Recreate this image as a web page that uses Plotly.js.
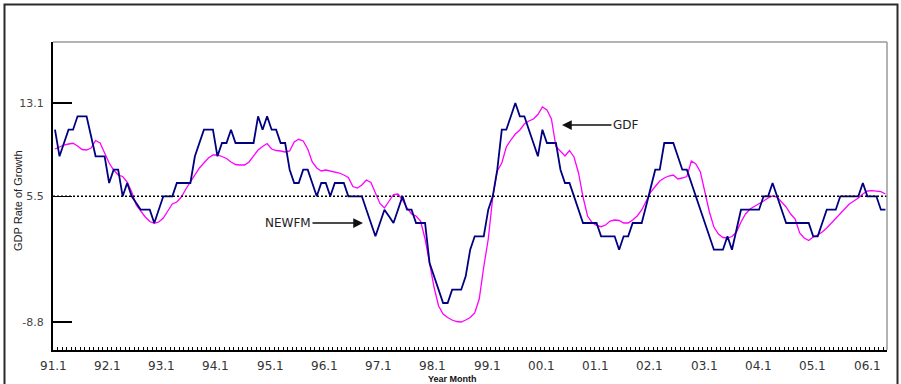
<!DOCTYPE html>
<html>
<head>
<meta charset="utf-8">
<script src="https://cdn.plot.ly/plotly-3.0.1.min.js"></script>
<style>
  html, body { margin: 0; padding: 0; background: #ffffff; }
  #chart { width: 901px; height: 384px; }
</style>
</head>
<body>
<div id="chart"></div>
<script>
// ---- Data, monthly from 1991.1 ----
const yearLabels = ['91.1','92.1','93.1','94.1','95.1','96.1','97.1','98.1',
                    '99.1','00.1','01.1','02.1','03.1','04.1','05.1','06.1'];

// NEWFM forecast (navy, stepped levels)
const newfm = [
  10.43, 7.77, 9.10, 10.43, 10.43, 11.77, 11.77, 11.77, 9.77, 7.77,
  7.77, 7.77, 5.10, 6.43, 6.43, 3.77, 5.10, 3.77, 3.10, 2.43,
  2.43, 2.43, 1.10, 2.43, 3.77, 3.77, 3.77, 5.10, 5.10, 5.10,
  5.10, 7.77, 9.10, 10.43, 10.43, 10.43, 7.77, 9.10, 9.10, 10.43,
  9.10, 9.10, 9.10, 9.10, 9.10, 11.77, 10.43, 11.77, 10.43, 10.43,
  9.10, 9.10, 6.43, 5.10, 5.10, 6.43, 6.43, 5.10, 3.77, 5.10,
  5.10, 3.77, 5.10, 5.10, 5.10, 3.77, 3.77, 3.77, 3.77, 2.43,
  1.10, -0.23, 1.10, 2.43, 1.77, 1.10, 2.43, 3.77, 2.43, 2.43,
  1.10, 1.10, 1.10, -2.90, -4.23, -5.57, -6.90, -6.90, -5.57, -5.57,
  -5.57, -4.23, -1.57, -0.23, -0.23, -0.23, 2.43, 3.77, 6.43, 10.43,
  10.43, 11.77, 13.10, 11.77, 11.77, 10.43, 9.10, 7.77, 10.43, 9.10,
  9.10, 9.10, 6.43, 5.10, 5.10, 3.77, 2.43, 1.10, 1.10, 1.10,
  1.10, -0.23, -0.23, -0.23, -0.23, -1.57, -0.23, -0.23, 1.10, 1.10,
  1.10, 2.84, 4.70, 6.43, 6.43, 9.10, 9.10, 9.10, 7.77, 6.43,
  6.43, 5.10, 3.77, 2.43, 1.10, -0.23, -1.57, -1.57, -1.57, -0.23,
  -1.57, 0.43, 2.43, 2.43, 2.43, 2.43, 2.43, 3.77, 3.77, 5.10,
  3.77, 2.43, 1.10, 1.10, 1.10, 1.10, 1.10, 1.10, -0.23, -0.23,
  1.10, 2.43, 2.43, 2.43, 3.77, 3.77, 3.77, 3.77, 3.77, 5.10,
  3.77, 3.77, 3.77, 2.43, 2.43
];

// Actual GDP growth (magenta)
const gdp = [
  8.5, 8.7, 8.9, 9.0, 9.07, 8.8, 8.45, 8.4, 8.6, 9.35,
  9.1, 8.1, 7.1, 6.4, 5.9, 5.75, 5.2, 4.2, 2.9, 2.3,
  1.7, 1.25, 1.07, 1.2, 1.6, 2.3, 3.0, 3.2, 3.7, 4.5,
  5.2, 6.0, 6.6, 7.1, 7.6, 7.9, 7.9, 7.75, 7.55, 7.2,
  6.95, 6.9, 6.9, 7.2, 7.8, 8.4, 8.75, 9.05, 8.5, 8.35,
  8.3, 8.2, 8.3, 9.2, 9.47, 9.3, 8.5, 7.2, 6.6, 6.3,
  6.4, 6.3, 6.2, 6.1, 5.9, 5.65, 4.75, 4.6, 4.9, 5.4,
  5.15, 4.0, 3.05, 2.6, 3.3, 3.95, 4.0, 3.4, 2.6, 2.0,
  1.8, 1.3, -0.5, -2.93, -5.35, -7.2, -8.0, -8.35, -8.6, -8.75,
  -8.8, -8.6, -8.35, -7.9, -6.5, -3.3, -0.5, 3.7, 6.3, 7.1,
  8.7, 9.4, 10.0, 10.4, 11.0, 11.3, 11.5, 11.95, 12.7, 12.4,
  11.5, 8.75, 8.3, 7.8, 8.35, 7.7, 6.1, 3.7, 1.8, 1.15,
  0.85, 0.73, 0.9, 1.3, 1.4, 1.35, 1.1, 1.1, 1.4, 1.8,
  2.4, 3.3, 4.2, 4.75, 5.3, 5.6, 5.8, 5.9, 5.5, 5.6,
  5.75, 7.3, 7.0, 6.2, 4.3, 2.2, 0.7, 0.0, -0.35, -0.4,
  -0.25, 0.2, 1.2, 2.0, 2.5, 2.75, 3.0, 3.3, 3.6, 3.8,
  3.7, 3.2, 2.7, 2.0, 1.5, 0.1, -0.4, -0.65, -0.3, -0.1,
  0.2, 0.6, 1.1, 1.6, 2.1, 2.55, 3.0, 3.3, 3.6, 4.0,
  4.3, 4.33, 4.25, 4.23, 4.0
];

const yTickVals = [13.1, 3.77, -8.8];
const yTickText = ['13.1', '5.5', '-8.8'];
const refLine = 3.77;

// ---- Layout helpers (pixel geometry of the frame) ----
const W = 901, H = 384;
const L = 53, R = 887, T = 42, B = 350;
const px2x = p => (p - L) / (R - L);
const px2y = p => (B - p) / (B - T);

const months = newfm.map((_, i) => i);

const traces = [
  { x: months, y: gdp, type: 'scatter', mode: 'lines', name: 'GDP',
    line: { color: '#ff00ff', width: 1.3 }, showlegend: false },
  { x: months, y: newfm, type: 'scatter', mode: 'lines', name: 'NEWFM',
    line: { color: '#000080', width: 1.8 }, showlegend: false }
];

const annotations = [];
yearLabels.forEach((lab, k) => {
  annotations.push({
    xref: 'paper', yref: 'paper', x: px2x(53 + k * 54.27), y: px2y(366),
    text: lab, showarrow: false, xanchor: 'center', yanchor: 'middle',
    font: { family: 'DejaVu Sans', size: 12, color: '#333' }
  });
});
annotations.push({
  xref: 'paper', yref: 'paper', x: px2x(452), y: px2y(379),
  text: '<b>Year Month</b>', showarrow: false, xanchor: 'center', yanchor: 'middle',
  font: { family: 'Liberation Sans', size: 9, color: '#111' }
});
annotations.push({
  xref: 'paper', yref: 'paper', x: px2x(18), y: px2y(201),
  text: 'GDP Rate of Growth', showarrow: false, textangle: -90,
  xanchor: 'center', yanchor: 'middle',
  font: { family: 'Liberation Sans', size: 11, color: '#222' }
});
annotations.push({
  xref: 'paper', yref: 'paper', x: px2x(562), y: px2y(125),
  text: 'GDF', showarrow: true, ax: 64, ay: 0,
  arrowhead: 2, arrowsize: 1.3, arrowwidth: 1.5, arrowcolor: '#111', standoff: 0,
  font: { family: 'DejaVu Sans', size: 12, color: '#222' }
});
annotations.push({
  xref: 'paper', yref: 'paper', x: px2x(363), y: px2y(223),
  text: 'NEWFM', showarrow: true, ax: -75, ay: 0,
  arrowhead: 2, arrowsize: 1.3, arrowwidth: 1.5, arrowcolor: '#111', standoff: 0,
  font: { family: 'DejaVu Sans', size: 12, color: '#222' }
});

const shapes = [
  // reference dotted line
  { type: 'line', xref: 'paper', yref: 'y', x0: 0, x1: 1, y0: refLine, y1: refLine,
    line: { color: '#000', width: 1.5, dash: '2px,2px' } },
  // top & right frame lines (gray)
  { type: 'line', xref: 'paper', yref: 'paper', x0: 0, x1: 1, y0: 1, y1: 1,
    line: { color: '#9a9a9a', width: 1.5 } },
  { type: 'line', xref: 'paper', yref: 'paper', x0: 1, x1: 1, y0: 0, y1: 1,
    line: { color: '#9a9a9a', width: 1.5 } },
  // outer border
  { type: 'rect', xref: 'paper', yref: 'paper',
    x0: px2x(4.5), x1: px2x(897.5), y0: px2y(392), y1: px2y(4.5),
    line: { color: '#2a2a2a', width: 2 }, fillcolor: 'rgba(0,0,0,0)' }
];

const layout = {
  width: W, height: H,
  margin: { l: L, r: W - R, t: T, b: H - B, pad: 0 },
  paper_bgcolor: '#ffffff', plot_bgcolor: '#ffffff',
  showlegend: false,
  xaxis: {
    range: [-0.44, 184.35], showgrid: false, zeroline: false,
    showline: true, linecolor: '#000', linewidth: 1.5,
    tickmode: 'linear', tick0: -0.44, dtick: 1,
    ticks: 'inside', ticklen: 3, tickwidth: 1, tickcolor: '#000',
    showticklabels: false
  },
  yaxis: {
    range: [-11.6, 19.2], showgrid: false, zeroline: false,
    showline: true, linecolor: '#000', linewidth: 2,
    tickmode: 'array', tickvals: yTickVals, ticktext: yTickText,
    ticks: 'inside', ticklen: 19, tickwidth: 1.5, tickcolor: '#000',
    ticklabelstandoff: 5,
    tickfont: { family: 'DejaVu Sans', size: 11, color: '#444' }
  },
  annotations: annotations,
  shapes: shapes
};

Plotly.newPlot('chart', traces, layout, { staticPlot: true, displayModeBar: false });
</script>
</body>
</html>
